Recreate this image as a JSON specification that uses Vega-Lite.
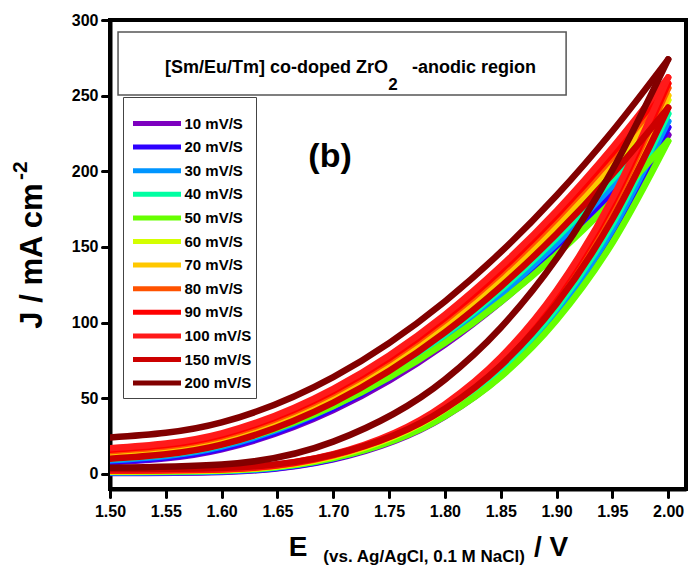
{
  "$schema": "https://vega.github.io/schema/vega-lite/v6.json",
  "width": 576,
  "height": 469,
  "autosize": "none",
  "padding": {"left": 110, "top": 20, "right": 4, "bottom": 80},
  "background": "white",
  "config": {
    "view": {"stroke": "black", "strokeWidth": 4},
    "font": "Arial",
    "text": {"font": "Arial", "fontWeight": "bold", "color": "black"}
  },
  "datasets": {
    "cv": [
      {"r": "10 mV/S", "b": "f", "e": 1.5, "j": 0.5}, {"r": "10 mV/S", "b": "f", "e": 1.6, "j": 1.3}, {"r": "10 mV/S", "b": "f", "e": 1.7, "j": 9.6}, {"r": "10 mV/S", "b": "f", "e": 1.8, "j": 37.9}, {"r": "10 mV/S", "b": "f", "e": 1.85, "j": 64.6}, {"r": "10 mV/S", "b": "f", "e": 1.9, "j": 102.8}, {"r": "10 mV/S", "b": "f", "e": 1.95, "j": 155.1}, {"r": "10 mV/S", "b": "f", "e": 2.0, "j": 224},
      {"r": "10 mV/S", "b": "u", "e": 1.5, "j": 7.5}, {"r": "10 mV/S", "b": "u", "e": 1.6, "j": 16.2}, {"r": "10 mV/S", "b": "u", "e": 1.7, "j": 42.1}, {"r": "10 mV/S", "b": "u", "e": 1.8, "j": 85.4}, {"r": "10 mV/S", "b": "u", "e": 1.85, "j": 113.6}, {"r": "10 mV/S", "b": "u", "e": 1.9, "j": 146.1}, {"r": "10 mV/S", "b": "u", "e": 1.95, "j": 182.9}, {"r": "10 mV/S", "b": "u", "e": 2.0, "j": 224},
      {"r": "20 mV/S", "b": "f", "e": 1.5, "j": 0.8}, {"r": "20 mV/S", "b": "f", "e": 1.6, "j": 1.6}, {"r": "20 mV/S", "b": "f", "e": 1.7, "j": 10.0}, {"r": "20 mV/S", "b": "f", "e": 1.8, "j": 39.0}, {"r": "20 mV/S", "b": "f", "e": 1.85, "j": 66.3}, {"r": "20 mV/S", "b": "f", "e": 1.9, "j": 105.3}, {"r": "20 mV/S", "b": "f", "e": 1.95, "j": 158.6}, {"r": "20 mV/S", "b": "f", "e": 2.0, "j": 229},
      {"r": "20 mV/S", "b": "u", "e": 1.5, "j": 8}, {"r": "20 mV/S", "b": "u", "e": 1.6, "j": 16.8}, {"r": "20 mV/S", "b": "u", "e": 1.7, "j": 43.4}, {"r": "20 mV/S", "b": "u", "e": 1.8, "j": 87.6}, {"r": "20 mV/S", "b": "u", "e": 1.85, "j": 116.3}, {"r": "20 mV/S", "b": "u", "e": 1.9, "j": 149.4}, {"r": "20 mV/S", "b": "u", "e": 1.95, "j": 187.0}, {"r": "20 mV/S", "b": "u", "e": 2.0, "j": 229},
      {"r": "30 mV/S", "b": "f", "e": 1.5, "j": 1.0}, {"r": "30 mV/S", "b": "f", "e": 1.6, "j": 1.8}, {"r": "30 mV/S", "b": "f", "e": 1.7, "j": 10.4}, {"r": "30 mV/S", "b": "f", "e": 1.8, "j": 39.8}, {"r": "30 mV/S", "b": "f", "e": 1.85, "j": 67.6}, {"r": "30 mV/S", "b": "f", "e": 1.9, "j": 107.2}, {"r": "30 mV/S", "b": "f", "e": 1.95, "j": 161.4}, {"r": "30 mV/S", "b": "f", "e": 2.0, "j": 233},
      {"r": "30 mV/S", "b": "u", "e": 1.5, "j": 9}, {"r": "30 mV/S", "b": "u", "e": 1.6, "j": 18.0}, {"r": "30 mV/S", "b": "u", "e": 1.7, "j": 44.8}, {"r": "30 mV/S", "b": "u", "e": 1.8, "j": 89.6}, {"r": "30 mV/S", "b": "u", "e": 1.85, "j": 118.8}, {"r": "30 mV/S", "b": "u", "e": 1.9, "j": 152.4}, {"r": "30 mV/S", "b": "u", "e": 1.95, "j": 190.4}, {"r": "30 mV/S", "b": "u", "e": 2.0, "j": 233},
      {"r": "40 mV/S", "b": "f", "e": 1.5, "j": 1.2}, {"r": "40 mV/S", "b": "f", "e": 1.6, "j": 2.1}, {"r": "40 mV/S", "b": "f", "e": 1.7, "j": 10.8}, {"r": "40 mV/S", "b": "f", "e": 1.8, "j": 40.8}, {"r": "40 mV/S", "b": "f", "e": 1.85, "j": 69.1}, {"r": "40 mV/S", "b": "f", "e": 1.9, "j": 109.6}, {"r": "40 mV/S", "b": "f", "e": 1.95, "j": 165.0}, {"r": "40 mV/S", "b": "f", "e": 2.0, "j": 238},
      {"r": "40 mV/S", "b": "u", "e": 1.5, "j": 10}, {"r": "40 mV/S", "b": "u", "e": 1.6, "j": 19.1}, {"r": "40 mV/S", "b": "u", "e": 1.7, "j": 46.5}, {"r": "40 mV/S", "b": "u", "e": 1.8, "j": 92.1}, {"r": "40 mV/S", "b": "u", "e": 1.85, "j": 121.7}, {"r": "40 mV/S", "b": "u", "e": 1.9, "j": 155.9}, {"r": "40 mV/S", "b": "u", "e": 1.95, "j": 194.7}, {"r": "40 mV/S", "b": "u", "e": 2.0, "j": 238},
      {"r": "50 mV/S", "b": "f", "e": 1.5, "j": 1.5}, {"r": "50 mV/S", "b": "f", "e": 1.6, "j": 2.3}, {"r": "50 mV/S", "b": "f", "e": 1.7, "j": 10.4}, {"r": "50 mV/S", "b": "f", "e": 1.8, "j": 38.1}, {"r": "50 mV/S", "b": "f", "e": 1.85, "j": 64.2}, {"r": "50 mV/S", "b": "f", "e": 1.9, "j": 101.6}, {"r": "50 mV/S", "b": "f", "e": 1.95, "j": 152.6}, {"r": "50 mV/S", "b": "f", "e": 2.0, "j": 220},
      {"r": "50 mV/S", "b": "u", "e": 1.5, "j": 11.5}, {"r": "50 mV/S", "b": "u", "e": 1.6, "j": 19.8}, {"r": "50 mV/S", "b": "u", "e": 1.7, "j": 44.9}, {"r": "50 mV/S", "b": "u", "e": 1.8, "j": 86.6}, {"r": "50 mV/S", "b": "u", "e": 1.85, "j": 113.7}, {"r": "50 mV/S", "b": "u", "e": 1.9, "j": 144.9}, {"r": "50 mV/S", "b": "u", "e": 1.95, "j": 180.4}, {"r": "50 mV/S", "b": "u", "e": 2.0, "j": 220},
      {"r": "60 mV/S", "b": "f", "e": 1.5, "j": 1.5}, {"r": "60 mV/S", "b": "f", "e": 1.6, "j": 2.4}, {"r": "60 mV/S", "b": "f", "e": 1.7, "j": 11.4}, {"r": "60 mV/S", "b": "f", "e": 1.8, "j": 42.6}, {"r": "60 mV/S", "b": "f", "e": 1.85, "j": 71.9}, {"r": "60 mV/S", "b": "f", "e": 1.9, "j": 113.9}, {"r": "60 mV/S", "b": "f", "e": 1.95, "j": 171.3}, {"r": "60 mV/S", "b": "f", "e": 2.0, "j": 247},
      {"r": "60 mV/S", "b": "u", "e": 1.5, "j": 12.5}, {"r": "60 mV/S", "b": "u", "e": 1.6, "j": 21.9}, {"r": "60 mV/S", "b": "u", "e": 1.7, "j": 50.0}, {"r": "60 mV/S", "b": "u", "e": 1.8, "j": 96.9}, {"r": "60 mV/S", "b": "u", "e": 1.85, "j": 127.4}, {"r": "60 mV/S", "b": "u", "e": 1.9, "j": 162.6}, {"r": "60 mV/S", "b": "u", "e": 1.95, "j": 202.4}, {"r": "60 mV/S", "b": "u", "e": 2.0, "j": 247},
      {"r": "70 mV/S", "b": "f", "e": 1.5, "j": 1.8}, {"r": "70 mV/S", "b": "f", "e": 1.6, "j": 2.7}, {"r": "70 mV/S", "b": "f", "e": 1.7, "j": 11.9}, {"r": "70 mV/S", "b": "f", "e": 1.8, "j": 43.3}, {"r": "70 mV/S", "b": "f", "e": 1.85, "j": 73.0}, {"r": "70 mV/S", "b": "f", "e": 1.9, "j": 115.5}, {"r": "70 mV/S", "b": "f", "e": 1.95, "j": 173.4}, {"r": "70 mV/S", "b": "f", "e": 2.0, "j": 250},
      {"r": "70 mV/S", "b": "u", "e": 1.5, "j": 14}, {"r": "70 mV/S", "b": "u", "e": 1.6, "j": 23.4}, {"r": "70 mV/S", "b": "u", "e": 1.7, "j": 51.8}, {"r": "70 mV/S", "b": "u", "e": 1.8, "j": 99.0}, {"r": "70 mV/S", "b": "u", "e": 1.85, "j": 129.6}, {"r": "70 mV/S", "b": "u", "e": 1.9, "j": 165.0}, {"r": "70 mV/S", "b": "u", "e": 1.95, "j": 205.2}, {"r": "70 mV/S", "b": "u", "e": 2.0, "j": 250},
      {"r": "80 mV/S", "b": "f", "e": 1.5, "j": 2}, {"r": "80 mV/S", "b": "f", "e": 1.6, "j": 2.9}, {"r": "80 mV/S", "b": "f", "e": 1.7, "j": 12.2}, {"r": "80 mV/S", "b": "f", "e": 1.8, "j": 44.3}, {"r": "80 mV/S", "b": "f", "e": 1.85, "j": 74.6}, {"r": "80 mV/S", "b": "f", "e": 1.9, "j": 117.8}, {"r": "80 mV/S", "b": "f", "e": 1.95, "j": 177.0}, {"r": "80 mV/S", "b": "f", "e": 2.0, "j": 255},
      {"r": "80 mV/S", "b": "u", "e": 1.5, "j": 15}, {"r": "80 mV/S", "b": "u", "e": 1.6, "j": 24.6}, {"r": "80 mV/S", "b": "u", "e": 1.7, "j": 53.4}, {"r": "80 mV/S", "b": "u", "e": 1.8, "j": 101.4}, {"r": "80 mV/S", "b": "u", "e": 1.85, "j": 132.6}, {"r": "80 mV/S", "b": "u", "e": 1.9, "j": 168.6}, {"r": "80 mV/S", "b": "u", "e": 1.95, "j": 209.4}, {"r": "80 mV/S", "b": "u", "e": 2.0, "j": 255},
      {"r": "90 mV/S", "b": "f", "e": 1.5, "j": 2.2}, {"r": "90 mV/S", "b": "f", "e": 1.6, "j": 3.1}, {"r": "90 mV/S", "b": "f", "e": 1.7, "j": 12.6}, {"r": "90 mV/S", "b": "f", "e": 1.8, "j": 45.0}, {"r": "90 mV/S", "b": "f", "e": 1.85, "j": 75.6}, {"r": "90 mV/S", "b": "f", "e": 1.9, "j": 119.3}, {"r": "90 mV/S", "b": "f", "e": 1.95, "j": 179.1}, {"r": "90 mV/S", "b": "f", "e": 2.0, "j": 258},
      {"r": "90 mV/S", "b": "u", "e": 1.5, "j": 16}, {"r": "90 mV/S", "b": "u", "e": 1.6, "j": 25.7}, {"r": "90 mV/S", "b": "u", "e": 1.7, "j": 54.7}, {"r": "90 mV/S", "b": "u", "e": 1.8, "j": 103.1}, {"r": "90 mV/S", "b": "u", "e": 1.85, "j": 134.6}, {"r": "90 mV/S", "b": "u", "e": 1.9, "j": 170.9}, {"r": "90 mV/S", "b": "u", "e": 1.95, "j": 212.0}, {"r": "90 mV/S", "b": "u", "e": 2.0, "j": 258},
      {"r": "100 mV/S", "b": "f", "e": 1.5, "j": 2.5}, {"r": "100 mV/S", "b": "f", "e": 1.6, "j": 3.4}, {"r": "100 mV/S", "b": "f", "e": 1.7, "j": 13.0}, {"r": "100 mV/S", "b": "f", "e": 1.8, "j": 45.9}, {"r": "100 mV/S", "b": "f", "e": 1.85, "j": 77.0}, {"r": "100 mV/S", "b": "f", "e": 1.9, "j": 121.3}, {"r": "100 mV/S", "b": "f", "e": 1.95, "j": 181.9}, {"r": "100 mV/S", "b": "f", "e": 2.0, "j": 262},
      {"r": "100 mV/S", "b": "u", "e": 1.5, "j": 17}, {"r": "100 mV/S", "b": "u", "e": 1.6, "j": 26.8}, {"r": "100 mV/S", "b": "u", "e": 1.7, "j": 56.2}, {"r": "100 mV/S", "b": "u", "e": 1.8, "j": 105.2}, {"r": "100 mV/S", "b": "u", "e": 1.85, "j": 137.1}, {"r": "100 mV/S", "b": "u", "e": 1.9, "j": 173.8}, {"r": "100 mV/S", "b": "u", "e": 1.95, "j": 215.5}, {"r": "100 mV/S", "b": "u", "e": 2.0, "j": 262},
      {"r": "150 mV/S", "b": "f", "e": 1.5, "j": 3}, {"r": "150 mV/S", "b": "f", "e": 1.6, "j": 3.9}, {"r": "150 mV/S", "b": "f", "e": 1.7, "j": 12.7}, {"r": "150 mV/S", "b": "f", "e": 1.8, "j": 43.0}, {"r": "150 mV/S", "b": "f", "e": 1.85, "j": 71.6}, {"r": "150 mV/S", "b": "f", "e": 1.9, "j": 112.4}, {"r": "150 mV/S", "b": "f", "e": 1.95, "j": 168.3}, {"r": "150 mV/S", "b": "f", "e": 2.0, "j": 242},
      {"r": "150 mV/S", "b": "u", "e": 1.5, "j": 10}, {"r": "150 mV/S", "b": "u", "e": 1.6, "j": 19.3}, {"r": "150 mV/S", "b": "u", "e": 1.7, "j": 47.1}, {"r": "150 mV/S", "b": "u", "e": 1.8, "j": 93.5}, {"r": "150 mV/S", "b": "u", "e": 1.85, "j": 123.7}, {"r": "150 mV/S", "b": "u", "e": 1.9, "j": 158.5}, {"r": "150 mV/S", "b": "u", "e": 1.95, "j": 197.9}, {"r": "150 mV/S", "b": "u", "e": 2.0, "j": 242},
      {"r": "200 mV/S", "b": "f", "e": 1.5, "j": 4}, {"r": "200 mV/S", "b": "f", "e": 1.6, "j": 6.2}, {"r": "200 mV/S", "b": "f", "e": 1.7, "j": 21.3}, {"r": "200 mV/S", "b": "f", "e": 1.8, "j": 62.3}, {"r": "200 mV/S", "b": "f", "e": 1.85, "j": 96.6}, {"r": "200 mV/S", "b": "f", "e": 1.9, "j": 142.2}, {"r": "200 mV/S", "b": "f", "e": 1.95, "j": 200.8}, {"r": "200 mV/S", "b": "f", "e": 2.0, "j": 274},
      {"r": "200 mV/S", "b": "u", "e": 1.5, "j": 24}, {"r": "200 mV/S", "b": "u", "e": 1.6, "j": 34}, {"r": "200 mV/S", "b": "u", "e": 1.7, "j": 64}, {"r": "200 mV/S", "b": "u", "e": 1.8, "j": 114}, {"r": "200 mV/S", "b": "u", "e": 1.85, "j": 146.5}, {"r": "200 mV/S", "b": "u", "e": 1.9, "j": 184}, {"r": "200 mV/S", "b": "u", "e": 1.95, "j": 226.5}, {"r": "200 mV/S", "b": "u", "e": 2.0, "j": 274}
    ]
  },
  "layer": [
    {
      "data": {"name": "cv"},
      "mark": {"type": "line", "strokeWidth": 6.5, "strokeCap": "round", "strokeJoin": "round", "interpolate": "monotone", "clip": true},
      "encoding": {
        "x": {
          "field": "e", "type": "quantitative",
          "scale": {"domain": [1.5, 2.016], "nice": false, "zero": false},
          "axis": {
            "title": null, "grid": false,
            "values": [1.5, 1.525, 1.55, 1.575, 1.6, 1.625, 1.65, 1.675, 1.7, 1.725, 1.75, 1.775, 1.8, 1.825, 1.85, 1.875, 1.9, 1.925, 1.95, 1.975, 2.0],
            "labelExpr": "round(datum.value * 1000) % 50 == 0 ? format(datum.value, '.2f') : ''",
            "tickSize": {"condition": {"test": "round(datum.value * 1000) % 50 == 0", "value": 8}, "value": 5},
            "tickWidth": 3, "tickColor": "black", "tickCap": "round",
            "domainColor": "black", "domainWidth": 4,
            "labelFont": "Arial", "labelFontWeight": "bold", "labelFontSize": 16, "labelColor": "black",
            "labelPadding": 6, "labelFlush": false, "labelOverlap": false
          }
        },
        "y": {
          "field": "j", "type": "quantitative",
          "scale": {"domain": [-10, 300], "nice": false, "zero": false},
          "axis": {
            "title": null, "grid": false,
            "values": [0, 25, 50, 75, 100, 125, 150, 175, 200, 225, 250, 275, 300],
            "labelExpr": "datum.value % 50 == 0 ? format(datum.value, 'd') : ''",
            "tickSize": {"condition": {"test": "datum.value % 50 == 0", "value": 8}, "value": 5},
            "tickWidth": 3, "tickColor": "black", "tickCap": "round",
            "domainColor": "black", "domainWidth": 4,
            "labelFont": "Arial", "labelFontWeight": "bold", "labelFontSize": 16, "labelColor": "black",
            "labelPadding": 4, "labelOverlap": false
          }
        },
        "detail": {"field": "b"},
        "color": {
          "field": "r", "type": "nominal",
          "scale": {
            "domain": ["10 mV/S", "20 mV/S", "30 mV/S", "40 mV/S", "50 mV/S", "60 mV/S", "70 mV/S", "80 mV/S", "90 mV/S", "100 mV/S", "150 mV/S", "200 mV/S"],
            "range": ["#7d00bf", "#2d00ff", "#0095ff", "#00ffa2", "#66ff00", "#d4ff00", "#ffc800", "#ff5200", "#ff0000", "#ff1a1a", "#cc0000", "#820000"]
          },
          "legend": {
            "title": " ", "titleFontSize": 10, "titlePadding": 4,
            "orient": "none", "legendX": 13, "legendY": 77,
            "symbolType": "M-4,0H4", "symbolSize": 144, "symbolStrokeWidth": 5, "symbolOffset": 21.5,
            "labelFont": "Arial", "labelFontWeight": "bold", "labelFontSize": 15, "labelColor": "black",
            "labelOffset": 19, "rowPadding": 2.6,
            "strokeColor": "#444444", "padding": 4, "fillColor": "white"
          }
        }
      }
    },
    {
      "data": {"values": [{}]},
      "layer": [
        {
          "mark": {"type": "rect", "fill": "white", "stroke": "#555555", "strokeWidth": 1.5},
          "encoding": {
            "x": {"datum": 1.5072}, "x2": {"datum": 1.9086},
            "y": {"datum": 292.1}, "y2": {"datum": 250.5}
          }
        },
        {
          "mark": {"type": "text", "align": "right", "baseline": "middle", "fontSize": 18},
          "encoding": {"x": {"datum": 1.7491}, "y": {"datum": 268.3}, "text": {"value": "[Sm/Eu/Tm] co-doped ZrO"}}
        },
        {
          "mark": {"type": "text", "align": "center", "baseline": "middle", "fontSize": 17},
          "encoding": {"x": {"datum": 1.7536}, "y": {"datum": 257.0}, "text": {"value": "2"}}
        },
        {
          "mark": {"type": "text", "align": "left", "baseline": "middle", "fontSize": 18},
          "encoding": {"x": {"datum": 1.7706}, "y": {"datum": 268.3}, "text": {"value": "-anodic region"}}
        },
        {
          "mark": {"type": "text", "align": "center", "baseline": "middle", "fontSize": 34},
          "encoding": {"x": {"datum": 1.6971}, "y": {"datum": 209.5}, "text": {"value": "(b)"}}
        },
        {
          "mark": {"type": "text", "align": "center", "baseline": "middle", "fontSize": 31, "angle": 270},
          "encoding": {"x": {"datum": 1.431}, "y": {"datum": 144.0}, "text": {"value": "J / mA cm"}}
        },
        {
          "mark": {"type": "text", "align": "center", "baseline": "middle", "fontSize": 21, "angle": 270},
          "encoding": {"x": {"datum": 1.4203}, "y": {"datum": 200.5}, "text": {"value": "-2"}}
        },
        {
          "mark": {"type": "text", "align": "center", "baseline": "middle", "fontSize": 28},
          "encoding": {"x": {"datum": 1.6685}, "y": {"datum": -48.9}, "text": {"value": "E"}}
        },
        {
          "mark": {"type": "text", "align": "center", "baseline": "middle", "fontSize": 17},
          "encoding": {"x": {"datum": 1.7814}, "y": {"datum": -55.2}, "text": {"value": "(vs. Ag/AgCl, 0.1 M NaCl)"}}
        },
        {
          "mark": {"type": "text", "align": "center", "baseline": "middle", "fontSize": 28},
          "encoding": {"x": {"datum": 1.8952}, "y": {"datum": -48.9}, "text": {"value": "/ V"}}
        }
      ]
    }
  ]
}
